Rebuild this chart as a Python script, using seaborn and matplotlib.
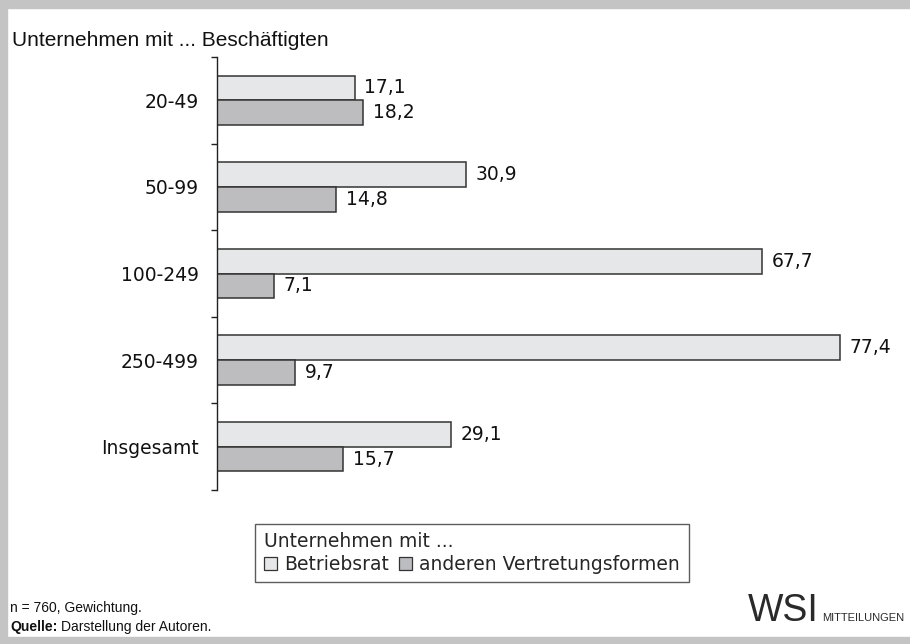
"""
Betriebsrat bzw. andere Vertretungsformen nach Unternehmensgröße (WSI Mitteilungen)
"""

import matplotlib.pyplot as plt
import pandas as pd
import seaborn as sns
from matplotlib.patches import Patch, Rectangle
from matplotlib.ticker import FixedLocator

sns.set_theme(style='white')
plt.rcParams['font.family'] = ['DejaVu Sans']
plt.rcParams['axes.unicode_minus'] = False

# Daten
kategorien = ['20-49', '50-99', '100-249', '250-499', 'Insgesamt']
betriebsrat = [17.1, 30.9, 67.7, 77.4, 29.1]
andere = [18.2, 14.8, 7.1, 9.7, 15.7]
gruppen = ['Betriebsrat', 'anderen Vertretungsformen']
farben = ['#e6e7e8', '#bcbdc0']

df = pd.DataFrame({
    'Kategorie': kategorien * 2,
    'Wert': betriebsrat + andere,
    'Gruppe': [gruppen[0]] * len(kategorien) + [gruppen[1]] * len(kategorien),
})

fig = plt.figure(figsize=(9.1, 6.44), dpi=100)
ax = fig.add_axes([217 / 910, 1 - 490 / 644, 680 / 910, 433 / 644])

sns.barplot(data=df, x='Wert', y='Kategorie', hue='Gruppe', order=kategorien,
            hue_order=gruppen, palette=farben, orient='h', width=0.57,
            edgecolor='#333333', linewidth=1.1, legend=False, ax=ax)

# Wertbeschriftungen mit Komma
for cont, werte in zip(ax.containers, [betriebsrat, andere]):
    ax.bar_label(cont, labels=[f'{v:.1f}'.replace('.', ',') for v in werte],
                 padding=7, fontsize=13.5, color='#111111')

ax.set_xlim(0, 84.5)
ax.set_ylim(len(kategorien) - 0.5, -0.5)
ax.set_xlabel('')
ax.set_ylabel('')
ax.set_xticks([])
for s in ['top', 'right', 'bottom']:
    ax.spines[s].set_visible(False)
ax.spines['left'].set_color('#222222')
ax.spines['left'].set_linewidth(1.0)
ax.tick_params(axis='y', which='major', length=0, pad=13, labelsize=13.5, labelcolor='#111111')
ax.yaxis.set_minor_locator(FixedLocator([i - 0.5 for i in range(len(kategorien) + 1)]))
ax.tick_params(axis='y', which='minor', left=True, length=4, width=1.0, color='#222222', direction='out')

schmal = ['Liberation Sans', 'DejaVu Sans']

# Titel der Achse
fig.text(12 / 910, 1 - 40 / 644, 'Unternehmen mit ... Beschäftigten', fontsize=15,
         family=schmal, va='center', ha='left', color='#111111')

# Legende
handles = [Patch(facecolor=c, edgecolor='#333333', linewidth=0.9) for c in farben]
leg = fig.legend(handles, gruppen, title='Unternehmen mit ...', ncol=2, loc='center',
                 bbox_to_anchor=(472 / 910, 1 - 553 / 644), fontsize=13.5, title_fontsize=13.5,
                 handlelength=0.7, handleheight=0.7, handletextpad=0.4, columnspacing=0.5,
                 frameon=True, fancybox=False, borderpad=0.45, labelspacing=0.2)
leg._legend_box.align = 'left'
leg.get_frame().set_edgecolor('#333333')
leg.get_frame().set_linewidth(1.0)

# Fußnoten
fig.text(10 / 910, 1 - 608 / 644, 'n = 760, Gewichtung.', fontsize=10,
         family=schmal, va='center', color='#111111')
fig.text(10 / 910, 1 - 627 / 644, 'Quelle:', fontsize=10, fontweight='bold',
         family=schmal, va='center', color='#111111')
fig.text(61 / 910, 1 - 627 / 644, 'Darstellung der Autoren.', fontsize=10,
         family=schmal, va='center', color='#111111')
fig.text(748 / 910, 1 - 621 / 644, 'WSI', fontsize=27,
         family=schmal, va='baseline', color='#2a2a2a')
fig.text(822 / 910, 1 - 621 / 644, 'MITTEILUNGEN', fontsize=8,
         family=schmal, va='baseline', color='#2a2a2a')

# grauer Rahmen
grau = '#c4c4c4'
fig.add_artist(Rectangle((0, 1 - 8 / 644), 1, 8 / 644, transform=fig.transFigure, color=grau))
fig.add_artist(Rectangle((0, 0), 7 / 910, 1, transform=fig.transFigure, color=grau))
fig.add_artist(Rectangle((0, 0), 1, 7 / 644, transform=fig.transFigure, color=grau))

plt.savefig('out.png', dpi=100)
plt.close()
